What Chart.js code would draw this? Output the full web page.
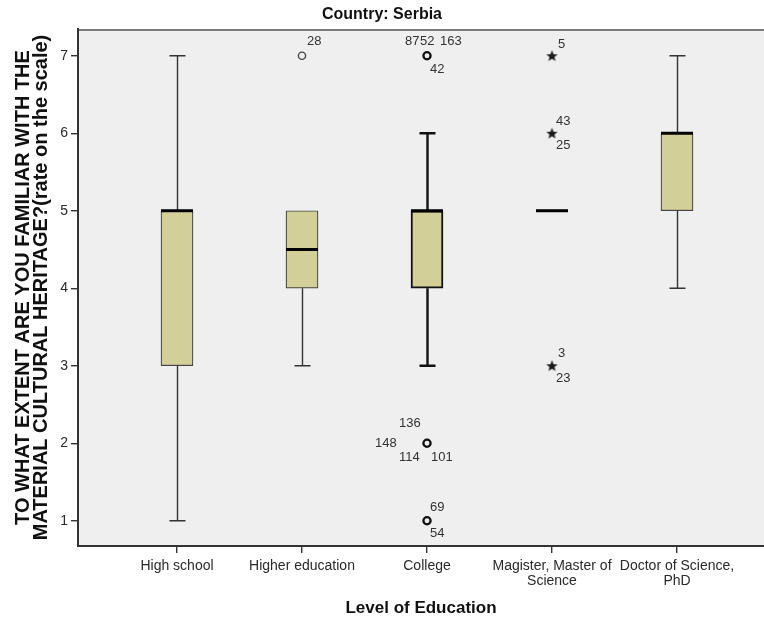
<!DOCTYPE html>
<html>
<head>
<meta charset="utf-8">
<script src="https://cdn.jsdelivr.net/npm/chart.js@4.4.1/dist/chart.umd.min.js"></script>
<style>
  html, body { margin: 0; padding: 0; background: #ffffff; overflow: hidden; }
  #wrap { width: 764px; height: 621px; position: relative; }
</style>
</head>
<body>
<div id="wrap"><canvas id="chart" width="764" height="621"></canvas></div>
<script>
// ---- data ----
const categories = ['High school', 'Higher education', 'College',
  ['Magister, Master of', 'Science'], ['Doctor of Science,', 'PhD']];
const whiskerLow  = [1, 3, 3, 5, 4];
const quartile1   = [3, 4, 4, 5, 5];
const medians     = [5, 4.5, 5, 5, 6];
const quartile3   = [5, 5, 5, 5, 6];
const whiskerHigh = [7, 5, 6, 5, 7];
const yTicks = [1, 2, 3, 4, 5, 6, 7];

// outliers (circles): category index, value, case numbers
const outlierCat   = [1, 2, 2, 2];
const outlierVal   = [7, 7, 2, 1];
const outlierCases = [['28'], ['87', '52', '163', '42'], ['136', '148', '114', '101'], ['69', '54']];

// extreme values (stars)
const extremeCat   = [3, 3, 3];
const extremeVal   = [7, 6, 3];
const extremeCases = [['5'], ['43', '25'], ['3', '23']];

// ---- styling / layout ----
const FONT = "'Liberation Sans', Arial, sans-serif";
const BOX_FILL = '#d3cf99';
const BOX_WIDTH = 32;
const CAP_HALF = 8;
const emphasised = [false, false, true, false, false];   // College drawn heavier

// where each case number sits relative to its marker (px: text left, text middle)
const outlierLabelOffsets = [
  [[5, -14]],
  [[-22, -14], [-7, -14], [13, -14], [3, 14]],
  [[-28, -20], [-52, 0], [-28, 14], [4, 14]],
  [[3, -13], [3, 13]]
];
const extremeLabelOffsets = [
  [[6, -11]],
  [[4, -12], [4, 12]],
  [[6, -12], [4, 13]]
];

// filled five-point star used for extreme values
function makeStar() {
  const c = document.createElement('canvas');
  c.width = 13; c.height = 13;
  const g = c.getContext('2d');
  g.fillStyle = '#1a1a1a';
  g.beginPath();
  for (let k = 0; k < 10; k++) {
    const r = k % 2 === 0 ? 6 : 2.6;
    const a = -Math.PI / 2 + k * Math.PI / 5;
    const px = 6.5 + r * Math.cos(a), py = 7 + r * Math.sin(a);
    if (k === 0) g.moveTo(px, py); else g.lineTo(px, py);
  }
  g.closePath();
  g.fill();
  return c;
}
const starImg = makeStar();

const plotBackground = {
  id: 'plotBackground',
  beforeDraw(chart) {
    const { ctx, chartArea: a } = chart;
    ctx.save();
    ctx.fillStyle = '#efefef';
    ctx.fillRect(a.left, a.top, a.right - a.left, a.bottom - a.top);
    ctx.strokeStyle = '#7a7a7a';
    ctx.lineWidth = 2;
    ctx.beginPath();
    ctx.moveTo(a.left, a.top + 1);
    ctx.lineTo(a.right, a.top + 1);
    ctx.stroke();
    ctx.restore();
  }
};

const boxParts = {
  id: 'boxParts',
  beforeDatasetsDraw(chart) {
    const { ctx, scales: { x, y } } = chart;
    ctx.save();
    ctx.lineCap = 'butt';
    categories.forEach((_, i) => {
      const cx = Math.round(x.getPixelForValue(i)) + 0.5;
      ctx.strokeStyle = emphasised[i] ? '#111' : '#333';
      ctx.lineWidth = emphasised[i] ? 2.4 : 1.4;
      const ends = [[quartile3[i], whiskerHigh[i]], [quartile1[i], whiskerLow[i]]];
      ends.forEach(([from, to]) => {
        if (from === to) return;
        const y0 = y.getPixelForValue(from), y1 = y.getPixelForValue(to);
        ctx.beginPath();
        ctx.moveTo(cx, y0); ctx.lineTo(cx, y1);
        ctx.moveTo(cx - CAP_HALF, y1); ctx.lineTo(cx + CAP_HALF, y1);
        ctx.stroke();
      });
    });
    ctx.restore();
  },
  afterDatasetsDraw(chart) {
    const { ctx, scales: { x, y } } = chart;
    ctx.save();
    // medians
    ctx.strokeStyle = '#000';
    ctx.lineWidth = 3;
    categories.forEach((_, i) => {
      const cx = x.getPixelForValue(i);
      const my = y.getPixelForValue(medians[i]);
      ctx.beginPath();
      ctx.moveTo(cx - BOX_WIDTH / 2, my);
      ctx.lineTo(cx + BOX_WIDTH / 2, my);
      ctx.stroke();
    });
    // case numbers next to outliers and extremes
    ctx.fillStyle = '#333';
    ctx.font = '13px ' + FONT;
    ctx.textAlign = 'left';
    ctx.textBaseline = 'middle';
    const put = (cats, vals, cases, offs) => {
      cats.forEach((c, k) => {
        const px = x.getPixelForValue(c), py = y.getPixelForValue(vals[k]);
        cases[k].forEach((t, j) => {
          const [dx, dy] = offs[k][j];
          ctx.fillText(t, px + dx, py + dy);
        });
      });
    };
    put(outlierCat, outlierVal, outlierCases, outlierLabelOffsets);
    put(extremeCat, extremeVal, extremeCases, extremeLabelOffsets);
    ctx.restore();
  }
};

new Chart(document.getElementById('chart'), {
  type: 'bar',
  data: {
    datasets: [
      {
        type: 'bar',
        data: categories.map((_, i) => ({ x: i, y: [quartile1[i], quartile3[i]] })),
        backgroundColor: BOX_FILL,
        borderColor: categories.map((_, i) => emphasised[i] ? '#111' : '#444'),
        borderWidth: categories.map((_, i) => emphasised[i] ? 2 : 1.2),
        borderSkipped: false,
        barThickness: BOX_WIDTH,
        grouped: false,
        order: 2
      },
      {
        type: 'scatter',
        data: outlierCat.map((c, k) => ({ x: c, y: outlierVal[k] })),
        pointStyle: 'circle',
        pointRadius: 3.6,
        pointBackgroundColor: 'rgba(0,0,0,0)',
        pointBorderColor: outlierCat.map(c => emphasised[c] ? '#111' : '#444'),
        pointBorderWidth: outlierCat.map(c => emphasised[c] ? 2.3 : 1.4),
        order: 1
      },
      {
        type: 'scatter',
        data: extremeCat.map((c, k) => ({ x: c, y: extremeVal[k] })),
        pointStyle: starImg,
        order: 1
      }
    ]
  },
  options: {
    responsive: false,
    animation: false,
    layout: { padding: 0, autoPadding: false },
    plugins: {
      legend: { display: false },
      tooltip: { enabled: false },
      title: {
        display: true,
        text: 'Country: Serbia',
        color: '#111',
        font: { family: FONT, size: 16, weight: 'bold', lineHeight: 1.2 },
        padding: { top: 5, bottom: 4.8 }
      }
    },
    scales: {
      x: {
        type: 'linear',
        min: -0.792,
        max: 4.696,
        offset: false,
        afterBuildTicks: s => { s.ticks = categories.map((_, i) => ({ value: i })); },
        afterFit: s => { s.height = 75; s.paddingLeft = 0; s.paddingRight = 0; },
        ticks: {
          autoSkip: false,
          maxRotation: 0,
          padding: 6,
          color: '#2a2a2a',
          font: { family: FONT, size: 14, lineHeight: 1.05 },
          callback: v => categories[v]
        },
        grid: { drawOnChartArea: false, drawTicks: true, tickLength: 7, color: '#333', lineWidth: 1.4, offset: false },
        border: { display: true, color: '#333', width: 2 },
        title: {
          display: true,
          text: 'Level of Education',
          color: '#111',
          font: { family: FONT, size: 17, weight: 'bold', lineHeight: 1.2 },
          padding: { top: 0, bottom: 2 }
        }
      },
      y: {
        min: 0.674,
        max: 7.345,
        afterBuildTicks: s => { s.ticks = yTicks.map(v => ({ value: v })); },
        afterFit: s => { s.width = 78; s.paddingTop = 0; s.paddingBottom = 0; },
        ticks: {
          padding: 3,
          color: '#2a2a2a',
          font: { family: FONT, size: 14 }
        },
        grid: { drawOnChartArea: false, drawTicks: true, tickLength: 7, color: '#333', lineWidth: 1.4 },
        border: { display: true, color: '#333', width: 2 },
        title: {
          display: true,
          text: ['TO WHAT EXTENT ARE YOU FAMILIAR WITH THE', 'MATERIAL CULTURAL HERITAGE?(rate on the scale)'],
          color: '#111',
          font: { family: FONT, size: 20, weight: 'bold', lineHeight: 0.875 },
          padding: { top: 15, bottom: 0 }
        }
      }
    }
  },
  plugins: [plotBackground, boxParts]
});
</script>
</body>
</html>
